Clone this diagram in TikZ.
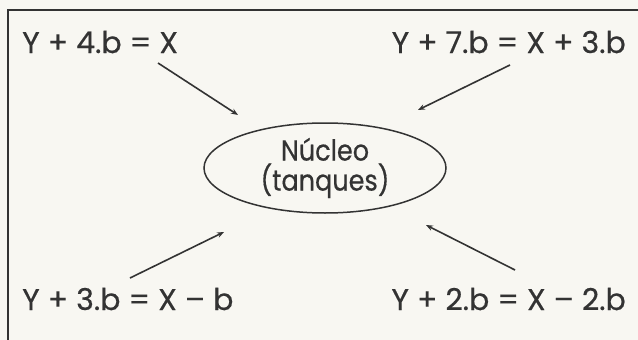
\documentclass[tikz,border=0pt]{standalone}
\usepackage{fontspec}
\setmainfont{Poppins}[FakeBold=0.5]
\newfontfamily\corefont{Poppins}[FakeBold=0.5,FakeStretch=0.88]
\usetikzlibrary{shapes.geometric,arrows.meta}
\definecolor{paper}{HTML}{F8F7F2}
\definecolor{ink}{HTML}{333333}
\begin{document}
\begin{tikzpicture}[x=1pt,y=-1pt,
  eq/.style={font=\fontsize{30}{32}\selectfont, text=ink, inner sep=0pt, anchor=base west},
  eqr/.style={eq, anchor=base east},
  core/.style={ellipse, draw=ink, line width=1.5pt, minimum width=242pt, minimum height=90pt, inner sep=0pt,
    align=center, text=ink, font=\corefont\fontsize{29}{30}\selectfont},
  link/.style={draw=ink, line width=1.6pt, -{Stealth[length=7pt,width=5.5pt]}},
  frame/.style={draw=ink, line width=2pt}]
\fill[paper] (0,0) rectangle (638,340);
\useasboundingbox (0,0) rectangle (638,340);
\draw[frame] (638,10) -- (8,10) -- (8,340);
\node[eq] (e1) at (22,53) {Y + 4.b = X};
\node[eqr] (e2) at (626,53) {Y + 7.b = X + 3.b};
\node[eq] (e3) at (22,310) {Y + 3.b = X – b};
\node[eqr] (e4) at (626,310) {Y + 2.b = X – 2.b};
\node[core] (n) at (325,168) {Núcleo\\(tanques)};
\coordinate (s1) at (158,63); \coordinate (t1) at (238,115);
\coordinate (s2) at (510,65); \coordinate (t2) at (418,110);
\coordinate (s3) at (130,278); \coordinate (t3) at (224,232);
\coordinate (s4) at (515,270); \coordinate (t4) at (426,225);
\draw[link] (s1) -- (t1);
\draw[link] (s2) -- (t2);
\draw[link] (s3) -- (t3);
\draw[link] (s4) -- (t4);
\end{tikzpicture}
\end{document}
